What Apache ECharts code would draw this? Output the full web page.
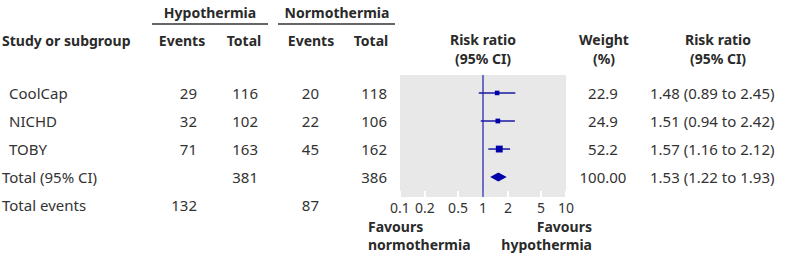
<!DOCTYPE html>
<html>
<head>
<meta charset="utf-8">
<script src="https://cdn.jsdelivr.net/npm/echarts@6/dist/echarts.min.js"></script>
<style>
  html, body { margin: 0; padding: 0; background: #fff; }
  #forest { width: 790px; height: 260px; }
</style>
</head>
<body>
<div id="forest"></div>
<script>
// study rows
const studies = ['CoolCap', 'NICHD', 'TOBY'];
const hypoEvents = [29, 32, 71];
const hypoTotal = [116, 102, 163];
const normoEvents = [20, 22, 45];
const normoTotal = [118, 106, 162];
const riskRatio = [1.48, 1.51, 1.57];
const ciLow = [0.89, 0.94, 1.16];
const ciHigh = [2.45, 2.42, 2.12];
const weights = ['22.9', '24.9', '52.2'];

// pooled row
const pooledLabel = 'Total (95% CI)';
const pooledHypoTotal = 381;
const pooledNormoTotal = 386;
const pooledRR = [1.53];
const pooledLow = [1.22];
const pooledHigh = [1.93];
const pooledWeight = '100.00';
const eventsLabel = 'Total events';
const hypoEventsAll = 132;
const normoEventsAll = 87;

const tickValues = [0.1, 0.2, 0.5, 1, 2, 5, 10];
const refValue = 1;

// layout
const TOP = 75, PANEL_H = 122, YMIN = -0.64, YMAX = 3.71;
const rowPx = PANEL_H / (YMAX - YMIN);
const rowY = i => TOP + (i - YMIN) * rowPx;
const FONT = '"Noto Sans", "Open Sans", sans-serif';
const BLUE = '#1a1aa6';
const INK = '#333';
const INK_BOLD = '#2a2a2a';

function txt(text, x, y, align, bold) {
    return {
        type: 'text',
        style: {
            text: String(text),
            x: x, y: y,
            textAlign: align || 'left',
            textVerticalAlign: 'middle',
            font: (bold ? 'bold 14px ' : '15px ') + FONT,
            fill: bold ? INK_BOLD : INK
        }
    };
}

let graphics = [];
// headers
graphics.push(txt('Hypothermia', 210, 12, 'center', true));
graphics.push(txt('Normothermia', 337, 12, 'center', true));
graphics.push({ type: 'line', shape: { x1: 152, y1: 24, x2: 268, y2: 24 }, style: { stroke: '#666', lineWidth: 2 } });
graphics.push({ type: 'line', shape: { x1: 278, y1: 24, x2: 395, y2: 24 }, style: { stroke: '#666', lineWidth: 2 } });
graphics.push(txt('Study or subgroup', 2, 40, 'left', true));
graphics.push(txt('Events', 182, 40, 'center', true));
graphics.push(txt('Total', 244, 40, 'center', true));
graphics.push(txt('Events', 311, 40, 'center', true));
graphics.push(txt('Total', 371, 40, 'center', true));
graphics.push(txt('Risk ratio', 483, 39, 'center', true));
graphics.push(txt('(95% CI)', 483, 58, 'center', true));
graphics.push(txt('Weight', 604, 39, 'center', true));
graphics.push(txt('(%)', 604, 58, 'center', true));
graphics.push(txt('Risk ratio', 718, 39, 'center', true));
graphics.push(txt('(95% CI)', 718, 58, 'center', true));

// study rows
studies.forEach((name, i) => {
    const y = rowY(i);
    graphics.push(txt(name, 9, y, 'left'));
    graphics.push(txt(hypoEvents[i], 197, y, 'right'));
    graphics.push(txt(hypoTotal[i], 258, y, 'right'));
    graphics.push(txt(normoEvents[i], 319, y, 'right'));
    graphics.push(txt(normoTotal[i], 387, y, 'right'));
    graphics.push(txt(weights[i], 603, y, 'center'));
    graphics.push(txt(riskRatio[i].toFixed(2) + ' (' + ciLow[i].toFixed(2) + ' to ' + ciHigh[i].toFixed(2) + ')', 650, y, 'left'));
});
// pooled
const yp = rowY(3);
graphics.push(txt(pooledLabel, 2, yp, 'left'));
graphics.push(txt(pooledHypoTotal, 258, yp, 'right'));
graphics.push(txt(pooledNormoTotal, 387, yp, 'right'));
graphics.push(txt(pooledWeight, 603, yp, 'center'));
graphics.push(txt(pooledRR[0].toFixed(2) + ' (' + pooledLow[0].toFixed(2) + ' to ' + pooledHigh[0].toFixed(2) + ')', 650, yp, 'left'));
const ye = rowY(4);
graphics.push(txt(eventsLabel, 2, ye, 'left'));
graphics.push(txt(hypoEventsAll, 197, ye, 'right'));
graphics.push(txt(normoEventsAll, 319, ye, 'right'));
// favours
graphics.push(txt('Favours', 368, 226, 'left', true));
graphics.push(txt('normothermia', 368, 244, 'left', true));
graphics.push(txt('Favours', 592, 226, 'right', true));
graphics.push(txt('hypothermia', 592, 244, 'right', true));

let forestData = studies.map((s, i) => [riskRatio[i], ciLow[i], ciHigh[i], parseFloat(weights[i]), i, 0]);
forestData.push([pooledRR[0], pooledLow[0], pooledHigh[0], 100, 3, 1]);

let chart = echarts.init(document.getElementById('forest'), null, { renderer: 'svg' });

let option = {
    animation: false,
    textStyle: { fontFamily: FONT },
    grid: {
        left: 400, width: 166, top: TOP, height: PANEL_H,
        show: true, backgroundColor: '#e8e8e8', borderWidth: 0
    },
    xAxis: {
        type: 'log',
        logBase: 10,
        min: 0.1,
        max: 10,
        position: 'bottom',
        axisLine: { show: false, onZero: false },
        splitLine: { show: false },
        axisTick: {
            show: true,
            inside: true,
            length: 6,
            lineStyle: { color: '#ffffff', width: 2 },
            customValues: tickValues
        },
        axisLabel: {
            customValues: tickValues,
            formatter: v => String(v),
            fontSize: 14,
            color: INK,
            margin: 3
        }
    },
    yAxis: {
        type: 'value',
        inverse: true,
        min: YMIN,
        max: YMAX,
        show: false
    },
    graphic: graphics,
    series: [{
        type: 'line',
        data: [[refValue, YMIN], [refValue, YMAX]],
        symbol: 'none',
        lineStyle: { color: BLUE, width: 1.2 },
        z: 2
    }, {
        type: 'custom',
        data: forestData,
        z: 3,
        renderItem: (params, api) => {
            const row = api.value(4);
            const c = api.coord([api.value(0), row]);
            const l = api.coord([api.value(1), row]);
            const h = api.coord([api.value(2), row]);
            if (api.value(5) === 1) {
                return {
                    type: 'polygon',
                    shape: { points: [[l[0], c[1]], [c[0], c[1] - 4.5], [h[0], c[1]], [c[0], c[1] + 4.5]] },
                    style: { fill: '#0000aa' }
                };
            }
            const s = 0.95 * Math.sqrt(api.value(3));
            return {
                type: 'group',
                children: [{
                    type: 'line',
                    shape: { x1: l[0], y1: c[1], x2: h[0], y2: c[1] },
                    style: { stroke: BLUE, lineWidth: 1.5 }
                }, {
                    type: 'rect',
                    shape: { x: c[0] - s / 2, y: c[1] - s / 2, width: s, height: s },
                    style: { fill: '#0000aa' }
                }]
            };
        }
    }]
};

try {
    chart.setOption(option);
} catch (e) {
    console.log(e);
}
</script>
</body>
</html>
